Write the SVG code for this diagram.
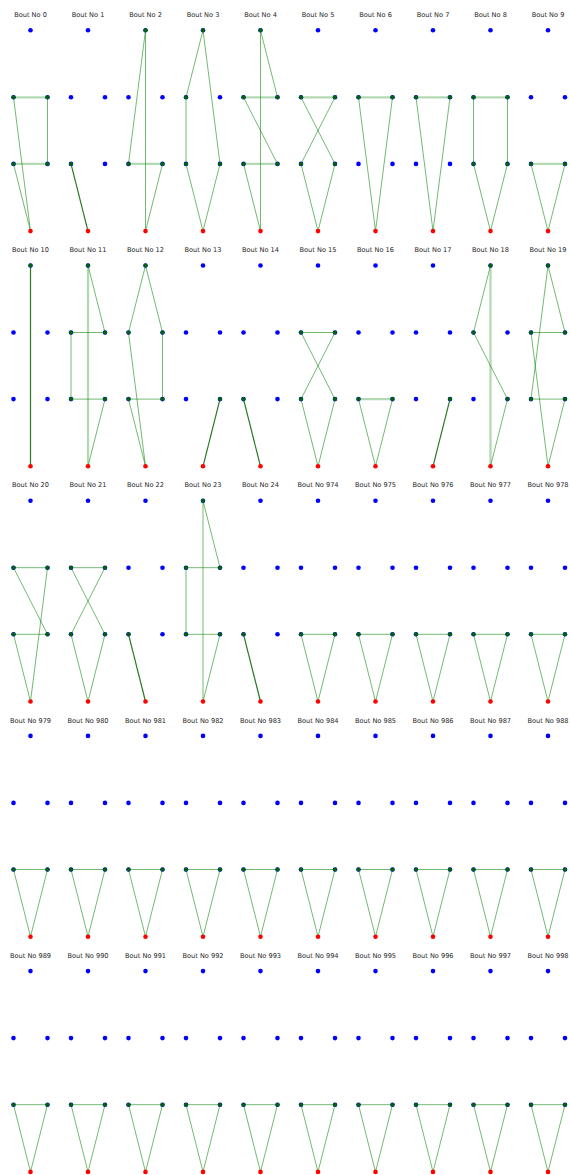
<svg xmlns="http://www.w3.org/2000/svg" xmlns:xlink="http://www.w3.org/1999/xlink" width="570" height="1175" viewBox="0 0 570 1175">
<style>
.t{font-family:"DejaVu Sans",sans-serif;font-size:6.6px;fill:#262626;text-anchor:middle}
path{fill:none}
.e{stroke:#008000;stroke-width:1;stroke-opacity:0.55}
.w{stroke:#008000;stroke-width:2.3;stroke-opacity:0.3}
.d{stroke:#006400;stroke-width:1.2;stroke-opacity:0.85}
.b{fill:#0000ff}
.g{fill:#006400}
.r{fill:#ff0000}
</style>
<defs>
<g id="blue">
<circle class="b" cx="0" cy="0" r="2.3"/><circle class="b" cx="-17" cy="67" r="2.3"/><circle class="b" cx="17" cy="67" r="2.3"/><circle class="b" cx="-17" cy="133.6" r="2.3"/><circle class="b" cx="17" cy="133.6" r="2.3"/>
</g>
<circle id="T" class="g" cx="0" cy="0" r="2"/>
<circle id="UL" class="g" cx="-17" cy="67" r="2"/>
<circle id="UR" class="g" cx="17" cy="67" r="2"/>
<circle id="LL" class="g" cx="-17" cy="133.6" r="2"/>
<circle id="LR" class="g" cx="17" cy="133.6" r="2"/>
<circle id="B" class="r" cx="0" cy="200.8" r="2.3"/>
<g id="tri"><path class="e" d="M-17 133.6H17"/><path class="e" d="M-17 133.6L0 200.8"/><path class="e" d="M17 133.6L0 200.8"/></g>
</defs>

<!-- Row 0 -->
<g id="bout-0" transform="translate(30.5,30.3)"><text class="t" x="0" y="-13.3">Bout No 0</text>
<g class="connectors"><path class="w" d="M-17 67H17"/><path class="e" d="M17 67V133.6"/><path class="w" d="M-17 133.6H17"/><path class="e" d="M-17 67L0 200.8"/><path class="e" d="M-17 133.6L0 200.8"/></g>
<g class="nodes"><use href="#blue"/><use href="#UL"/><use href="#UR"/><use href="#LL"/><use href="#LR"/><use href="#B"/></g></g>

<g id="bout-1" transform="translate(88,30.3)"><text class="t" x="0" y="-13.3">Bout No 1</text>
<g class="connectors"><path class="d" d="M-17 133.6L0 200.8"/></g>
<g class="nodes"><use href="#blue"/><use href="#LL"/><use href="#B"/></g></g>

<g id="bout-2" transform="translate(145.5,30.3)"><text class="t" x="0" y="-13.3">Bout No 2</text>
<g class="connectors"><path class="e" d="M0 0V200.8"/><path class="e" d="M0 0L-17 133.6"/><path class="w" d="M-17 133.6H17"/><path class="e" d="M17 133.6L0 200.8"/></g>
<g class="nodes"><use href="#blue"/><use href="#T"/><use href="#LL"/><use href="#LR"/><use href="#B"/></g></g>

<g id="bout-3" transform="translate(203,30.3)"><text class="t" x="0" y="-13.3">Bout No 3</text>
<g class="connectors"><path class="e" d="M0 0L-17 67"/><path class="e" d="M-17 67V133.6"/><path class="e" d="M0 0L17 133.6"/><path class="e" d="M-17 133.6L0 200.8"/><path class="e" d="M17 133.6L0 200.8"/></g>
<g class="nodes"><use href="#blue"/><use href="#T"/><use href="#UL"/><use href="#LL"/><use href="#LR"/><use href="#B"/></g></g>

<g id="bout-4" transform="translate(260.5,30.3)"><text class="t" x="0" y="-13.3">Bout No 4</text>
<g class="connectors"><path class="e" d="M0 0V200.8"/><path class="e" d="M0 0L17 67"/><path class="w" d="M-17 67H17"/><path class="e" d="M-17 67L17 133.6"/><path class="w" d="M-17 133.6H17"/><path class="e" d="M-17 133.6L0 200.8"/></g>
<g class="nodes"><use href="#blue"/><use href="#T"/><use href="#UL"/><use href="#UR"/><use href="#LL"/><use href="#LR"/><use href="#B"/></g></g>

<g id="bout-5" transform="translate(318,30.3)"><text class="t" x="0" y="-13.3">Bout No 5</text>
<g class="connectors"><path class="w" d="M-17 67H17"/><path class="e" d="M-17 67L17 133.6"/><path class="e" d="M17 67L-17 133.6"/><path class="e" d="M-17 133.6L0 200.8"/><path class="e" d="M17 133.6L0 200.8"/></g>
<g class="nodes"><use href="#blue"/><use href="#UL"/><use href="#UR"/><use href="#LL"/><use href="#LR"/><use href="#B"/></g></g>

<g id="bout-6" transform="translate(375.5,30.3)"><text class="t" x="0" y="-13.3">Bout No 6</text>
<g class="connectors"><path class="w" d="M-17 67H17"/><path class="e" d="M-17 67L0 200.8"/><path class="e" d="M17 67L0 200.8"/></g>
<g class="nodes"><use href="#blue"/><use href="#UL"/><use href="#UR"/><use href="#B"/></g></g>

<g id="bout-7" transform="translate(433,30.3)"><text class="t" x="0" y="-13.3">Bout No 7</text>
<g class="connectors"><path class="w" d="M-17 67H17"/><path class="e" d="M-17 67L0 200.8"/><path class="e" d="M17 67L0 200.8"/></g>
<g class="nodes"><use href="#blue"/><use href="#UL"/><use href="#UR"/><use href="#B"/></g></g>

<g id="bout-8" transform="translate(490.5,30.3)"><text class="t" x="0" y="-13.3">Bout No 8</text>
<g class="connectors"><path class="w" d="M-17 67H17"/><path class="e" d="M-17 67V133.6"/><path class="e" d="M17 67V133.6"/><path class="e" d="M-17 133.6L0 200.8"/><path class="e" d="M17 133.6L0 200.8"/></g>
<g class="nodes"><use href="#blue"/><use href="#UL"/><use href="#UR"/><use href="#LL"/><use href="#LR"/><use href="#B"/></g></g>

<g id="bout-9" transform="translate(548,30.3)"><text class="t" x="0" y="-13.3">Bout No 9</text>
<g class="connectors"><path class="w" d="M-17 133.6H17"/><path class="e" d="M-17 133.6L0 200.8"/><path class="e" d="M17 133.6L0 200.8"/></g>
<g class="nodes"><use href="#blue"/><use href="#LL"/><use href="#LR"/><use href="#B"/></g></g>

<!-- Row 1 -->
<g id="bout-10" transform="translate(30.5,265.5)"><text class="t" x="0" y="-13.3">Bout No 10</text>
<g class="connectors"><path class="d" d="M0 0V200.8"/></g>
<g class="nodes"><use href="#blue"/><use href="#T"/><use href="#B"/></g></g>

<g id="bout-11" transform="translate(88,265.5)"><text class="t" x="0" y="-13.3">Bout No 11</text>
<g class="connectors"><path class="w" d="M0 0V200.8"/><path class="e" d="M0 0L17 67"/><path class="e" d="M-17 67H17"/><path class="e" d="M-17 67V133.6"/><path class="e" d="M-17 133.6H17"/><path class="e" d="M17 133.6L0 200.8"/></g>
<g class="nodes"><use href="#blue"/><use href="#T"/><use href="#UL"/><use href="#UR"/><use href="#LL"/><use href="#LR"/><use href="#B"/></g></g>

<g id="bout-12" transform="translate(145.5,265.5)"><text class="t" x="0" y="-13.3">Bout No 12</text>
<g class="connectors"><path class="e" d="M0 0L-17 67"/><path class="e" d="M0 0L17 67"/><path class="e" d="M17 67V133.6"/><path class="e" d="M-17 67L0 200.8"/><path class="e" d="M-17 133.6H17"/><path class="e" d="M-17 133.6L0 200.8"/></g>
<g class="nodes"><use href="#blue"/><use href="#T"/><use href="#UL"/><use href="#UR"/><use href="#LL"/><use href="#LR"/><use href="#B"/></g></g>

<g id="bout-13" transform="translate(203,265.5)"><text class="t" x="0" y="-13.3">Bout No 13</text>
<g class="connectors"><path class="d" d="M17 133.6L0 200.8"/></g>
<g class="nodes"><use href="#blue"/><use href="#LR"/><use href="#B"/></g></g>

<g id="bout-14" transform="translate(260.5,265.5)"><text class="t" x="0" y="-13.3">Bout No 14</text>
<g class="connectors"><path class="d" d="M-17 133.6L0 200.8"/></g>
<g class="nodes"><use href="#blue"/><use href="#LL"/><use href="#B"/></g></g>

<g id="bout-15" transform="translate(318,265.5)"><text class="t" x="0" y="-13.3">Bout No 15</text>
<g class="connectors"><path class="e" d="M-17 67H17"/><path class="e" d="M-17 67L17 133.6"/><path class="e" d="M17 67L-17 133.6"/><path class="e" d="M-17 133.6L0 200.8"/><path class="e" d="M17 133.6L0 200.8"/></g>
<g class="nodes"><use href="#blue"/><use href="#UL"/><use href="#UR"/><use href="#LL"/><use href="#LR"/><use href="#B"/></g></g>

<g id="bout-16" transform="translate(375.5,265.5)"><text class="t" x="0" y="-13.3">Bout No 16</text>
<g class="connectors"><path class="w" d="M-17 133.6H17"/><path class="e" d="M-17 133.6L0 200.8"/><path class="e" d="M17 133.6L0 200.8"/></g>
<g class="nodes"><use href="#blue"/><use href="#LL"/><use href="#LR"/><use href="#B"/></g></g>

<g id="bout-17" transform="translate(433,265.5)"><text class="t" x="0" y="-13.3">Bout No 17</text>
<g class="connectors"><path class="d" d="M17 133.6L0 200.8"/></g>
<g class="nodes"><use href="#blue"/><use href="#LR"/><use href="#B"/></g></g>

<g id="bout-18" transform="translate(490.5,265.5)"><text class="t" x="0" y="-13.3">Bout No 18</text>
<g class="connectors"><path class="w" d="M0 0V200.8"/><path class="e" d="M0 0L-17 67"/><path class="e" d="M-17 67L17 133.6"/><path class="e" d="M17 133.6L0 200.8"/></g>
<g class="nodes"><use href="#blue"/><use href="#T"/><use href="#UL"/><use href="#LR"/><use href="#B"/></g></g>

<g id="bout-19" transform="translate(548,265.5)"><text class="t" x="0" y="-13.3">Bout No 19</text>
<g class="connectors"><path class="e" d="M0 0L17 67"/><path class="e" d="M0 0L-17 133.6"/><path class="e" d="M-17 67H17"/><path class="e" d="M-17 67L0 200.8"/><path class="e" d="M-17 133.6H17"/><path class="e" d="M17 133.6L0 200.8"/></g>
<g class="nodes"><use href="#blue"/><use href="#T"/><use href="#UL"/><use href="#UR"/><use href="#LL"/><use href="#LR"/><use href="#B"/></g></g>

<!-- Row 2 -->
<g id="bout-20" transform="translate(30.5,500.7)"><text class="t" x="0" y="-13.3">Bout No 20</text>
<g class="connectors"><path class="e" d="M-17 67H17"/><path class="e" d="M-17 67L17 133.6"/><path class="e" d="M17 67L0 200.8"/><path class="e" d="M-17 133.6H17"/><path class="e" d="M-17 133.6L0 200.8"/></g>
<g class="nodes"><use href="#blue"/><use href="#UL"/><use href="#UR"/><use href="#LL"/><use href="#LR"/><use href="#B"/></g></g>

<g id="bout-21" transform="translate(88,500.7)"><text class="t" x="0" y="-13.3">Bout No 21</text>
<g class="connectors"><path class="e" d="M-17 67H17"/><path class="e" d="M-17 67L17 133.6"/><path class="e" d="M17 67L-17 133.6"/><path class="e" d="M-17 133.6L0 200.8"/><path class="e" d="M17 133.6L0 200.8"/></g>
<g class="nodes"><use href="#blue"/><use href="#UL"/><use href="#UR"/><use href="#LL"/><use href="#LR"/><use href="#B"/></g></g>

<g id="bout-22" transform="translate(145.5,500.7)"><text class="t" x="0" y="-13.3">Bout No 22</text>
<g class="connectors"><path class="d" d="M-17 133.6L0 200.8"/></g>
<g class="nodes"><use href="#blue"/><use href="#LL"/><use href="#B"/></g></g>

<g id="bout-23" transform="translate(203,500.7)"><text class="t" x="0" y="-13.3">Bout No 23</text>
<g class="connectors"><path class="e" d="M0 0V200.8"/><path class="e" d="M0 0L17 67"/><path class="e" d="M-17 67H17"/><path class="e" d="M-17 67V133.6"/><path class="e" d="M-17 133.6H17"/><path class="e" d="M17 133.6L0 200.8"/></g>
<g class="nodes"><use href="#blue"/><use href="#T"/><use href="#UL"/><use href="#UR"/><use href="#LL"/><use href="#LR"/><use href="#B"/></g></g>

<g id="bout-24" transform="translate(260.5,500.7)"><text class="t" x="0" y="-13.3">Bout No 24</text>
<g class="connectors"><path class="d" d="M-17 133.6L0 200.8"/></g>
<g class="nodes"><use href="#blue"/><use href="#LL"/><use href="#B"/></g></g>

<g id="bout-974" transform="translate(318,500.7)"><text class="t" x="0" y="-13.3">Bout No 974</text>
<g class="connectors"><use href="#tri"/></g>
<g class="nodes"><use href="#blue"/><use href="#LL"/><use href="#LR"/><use href="#B"/></g></g>

<g id="bout-975" transform="translate(375.5,500.7)"><text class="t" x="0" y="-13.3">Bout No 975</text>
<g class="connectors"><use href="#tri"/></g>
<g class="nodes"><use href="#blue"/><use href="#LL"/><use href="#LR"/><use href="#B"/></g></g>

<g id="bout-976" transform="translate(433,500.7)"><text class="t" x="0" y="-13.3">Bout No 976</text>
<g class="connectors"><use href="#tri"/></g>
<g class="nodes"><use href="#blue"/><use href="#LL"/><use href="#LR"/><use href="#B"/></g></g>

<g id="bout-977" transform="translate(490.5,500.7)"><text class="t" x="0" y="-13.3">Bout No 977</text>
<g class="connectors"><use href="#tri"/></g>
<g class="nodes"><use href="#blue"/><use href="#LL"/><use href="#LR"/><use href="#B"/></g></g>

<g id="bout-978" transform="translate(548,500.7)"><text class="t" x="0" y="-13.3">Bout No 978</text>
<g class="connectors"><use href="#tri"/></g>
<g class="nodes"><use href="#blue"/><use href="#LL"/><use href="#LR"/><use href="#B"/></g></g>

<!-- Row 3 -->
<g id="bout-979" transform="translate(30.5,735.9)"><text class="t" x="0" y="-13.3">Bout No 979</text>
<g class="connectors"><use href="#tri"/></g>
<g class="nodes"><use href="#blue"/><use href="#LL"/><use href="#LR"/><use href="#B"/></g></g>

<g id="bout-980" transform="translate(88,735.9)"><text class="t" x="0" y="-13.3">Bout No 980</text>
<g class="connectors"><use href="#tri"/></g>
<g class="nodes"><use href="#blue"/><use href="#LL"/><use href="#LR"/><use href="#B"/></g></g>

<g id="bout-981" transform="translate(145.5,735.9)"><text class="t" x="0" y="-13.3">Bout No 981</text>
<g class="connectors"><use href="#tri"/></g>
<g class="nodes"><use href="#blue"/><use href="#LL"/><use href="#LR"/><use href="#B"/></g></g>

<g id="bout-982" transform="translate(203,735.9)"><text class="t" x="0" y="-13.3">Bout No 982</text>
<g class="connectors"><use href="#tri"/></g>
<g class="nodes"><use href="#blue"/><use href="#LL"/><use href="#LR"/><use href="#B"/></g></g>

<g id="bout-983" transform="translate(260.5,735.9)"><text class="t" x="0" y="-13.3">Bout No 983</text>
<g class="connectors"><use href="#tri"/></g>
<g class="nodes"><use href="#blue"/><use href="#LL"/><use href="#LR"/><use href="#B"/></g></g>

<g id="bout-984" transform="translate(318,735.9)"><text class="t" x="0" y="-13.3">Bout No 984</text>
<g class="connectors"><use href="#tri"/></g>
<g class="nodes"><use href="#blue"/><use href="#LL"/><use href="#LR"/><use href="#B"/></g></g>

<g id="bout-985" transform="translate(375.5,735.9)"><text class="t" x="0" y="-13.3">Bout No 985</text>
<g class="connectors"><use href="#tri"/></g>
<g class="nodes"><use href="#blue"/><use href="#LL"/><use href="#LR"/><use href="#B"/></g></g>

<g id="bout-986" transform="translate(433,735.9)"><text class="t" x="0" y="-13.3">Bout No 986</text>
<g class="connectors"><use href="#tri"/></g>
<g class="nodes"><use href="#blue"/><use href="#LL"/><use href="#LR"/><use href="#B"/></g></g>

<g id="bout-987" transform="translate(490.5,735.9)"><text class="t" x="0" y="-13.3">Bout No 987</text>
<g class="connectors"><use href="#tri"/></g>
<g class="nodes"><use href="#blue"/><use href="#LL"/><use href="#LR"/><use href="#B"/></g></g>

<g id="bout-988" transform="translate(548,735.9)"><text class="t" x="0" y="-13.3">Bout No 988</text>
<g class="connectors"><use href="#tri"/></g>
<g class="nodes"><use href="#blue"/><use href="#LL"/><use href="#LR"/><use href="#B"/></g></g>

<!-- Row 4 -->
<g id="bout-989" transform="translate(30.5,971.1)"><text class="t" x="0" y="-13.3">Bout No 989</text>
<g class="connectors"><use href="#tri"/></g>
<g class="nodes"><use href="#blue"/><use href="#LL"/><use href="#LR"/><use href="#B"/></g></g>

<g id="bout-990" transform="translate(88,971.1)"><text class="t" x="0" y="-13.3">Bout No 990</text>
<g class="connectors"><use href="#tri"/></g>
<g class="nodes"><use href="#blue"/><use href="#LL"/><use href="#LR"/><use href="#B"/></g></g>

<g id="bout-991" transform="translate(145.5,971.1)"><text class="t" x="0" y="-13.3">Bout No 991</text>
<g class="connectors"><use href="#tri"/></g>
<g class="nodes"><use href="#blue"/><use href="#LL"/><use href="#LR"/><use href="#B"/></g></g>

<g id="bout-992" transform="translate(203,971.1)"><text class="t" x="0" y="-13.3">Bout No 992</text>
<g class="connectors"><use href="#tri"/></g>
<g class="nodes"><use href="#blue"/><use href="#LL"/><use href="#LR"/><use href="#B"/></g></g>

<g id="bout-993" transform="translate(260.5,971.1)"><text class="t" x="0" y="-13.3">Bout No 993</text>
<g class="connectors"><use href="#tri"/></g>
<g class="nodes"><use href="#blue"/><use href="#LL"/><use href="#LR"/><use href="#B"/></g></g>

<g id="bout-994" transform="translate(318,971.1)"><text class="t" x="0" y="-13.3">Bout No 994</text>
<g class="connectors"><use href="#tri"/></g>
<g class="nodes"><use href="#blue"/><use href="#LL"/><use href="#LR"/><use href="#B"/></g></g>

<g id="bout-995" transform="translate(375.5,971.1)"><text class="t" x="0" y="-13.3">Bout No 995</text>
<g class="connectors"><use href="#tri"/></g>
<g class="nodes"><use href="#blue"/><use href="#LL"/><use href="#LR"/><use href="#B"/></g></g>

<g id="bout-996" transform="translate(433,971.1)"><text class="t" x="0" y="-13.3">Bout No 996</text>
<g class="connectors"><use href="#tri"/></g>
<g class="nodes"><use href="#blue"/><use href="#LL"/><use href="#LR"/><use href="#B"/></g></g>

<g id="bout-997" transform="translate(490.5,971.1)"><text class="t" x="0" y="-13.3">Bout No 997</text>
<g class="connectors"><use href="#tri"/></g>
<g class="nodes"><use href="#blue"/><use href="#LL"/><use href="#LR"/><use href="#B"/></g></g>

<g id="bout-998" transform="translate(548,971.1)"><text class="t" x="0" y="-13.3">Bout No 998</text>
<g class="connectors"><use href="#tri"/></g>
<g class="nodes"><use href="#blue"/><use href="#LL"/><use href="#LR"/><use href="#B"/></g></g>
</svg>
